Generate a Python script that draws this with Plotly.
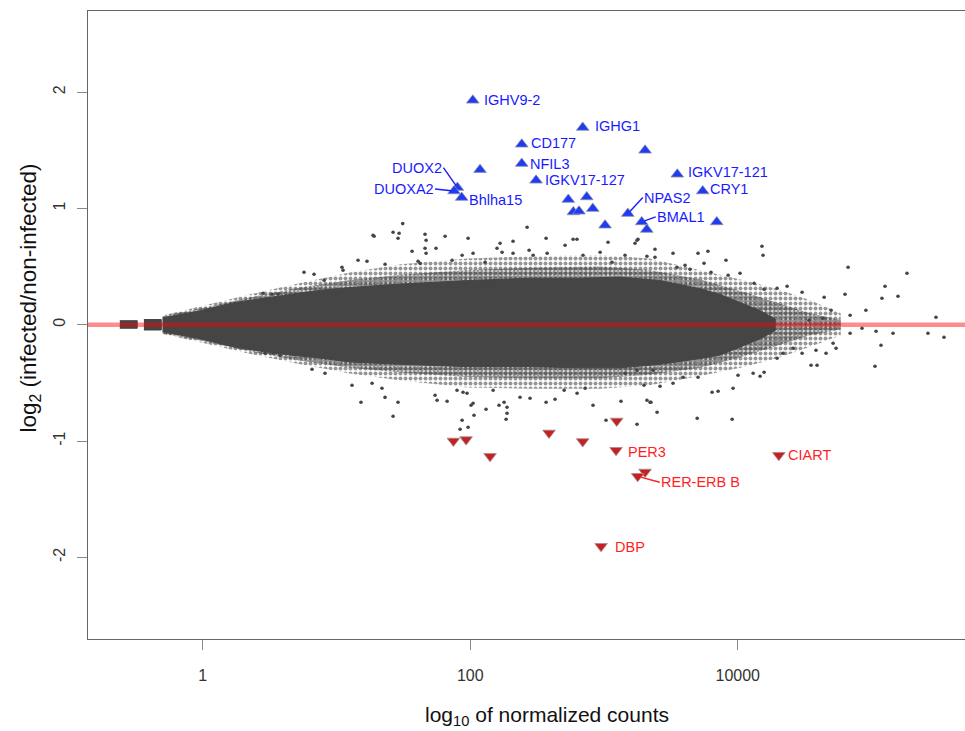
import plotly.graph_objects as go

# ---------------- data (x = log10 normalized counts, y = log2 fold change) ----------------
# dense core of the gene cloud: envelope
core_x = [-0.30, -0.17, -0.02, 0.23, 0.45, 0.65, 0.83, 1.10, 1.48, 1.98, 2.45, 2.82, 3.12, 3.42, 3.72, 3.87, 4.02, 4.17, 4.28]
core_hi = [0.06, 0.09, 0.12, 0.19, 0.23, 0.26, 0.29, 0.32, 0.35, 0.38, 0.40, 0.40, 0.41, 0.38, 0.31, 0.26, 0.19, 0.12, 0.05]
core_lo = [-0.06, -0.09, -0.12, -0.19, -0.23, -0.26, -0.28, -0.32, -0.34, -0.36, -0.36, -0.37, -0.37, -0.34, -0.29, -0.26, -0.19, -0.12, -0.05]
# two small clumps of very low-count genes
clump1_x = [-0.62, -0.49]
clump1_hi = [0.035, 0.035]
clump1_lo = [-0.03, -0.03]
clump2_x = [-0.44, -0.31]
clump2_hi = [0.045, 0.045]
clump2_lo = [-0.045, -0.045]
# denser speckled band just around the core
mid_x = [-0.30, -0.02, 0.35, 0.73, 1.10, 1.48, 1.98, 2.45, 2.97, 3.34, 3.72, 4.02, 4.32, 4.54, 4.77]
mid_hi = [0.075, 0.14, 0.235, 0.32, 0.385, 0.43, 0.47, 0.49, 0.50, 0.47, 0.39, 0.29, 0.18, 0.10, 0.04]
mid_lo = [-0.075, -0.135, -0.23, -0.31, -0.37, -0.41, -0.45, -0.46, -0.46, -0.43, -0.37, -0.28, -0.17, -0.09, -0.04]
# looser outer band
fuzz_x = [-0.30, -0.02, 0.35, 0.73, 1.10, 1.48, 1.98, 2.45, 2.97, 3.34, 3.72, 4.02, 4.32, 4.54, 4.77]
fuzz_hi = [0.08, 0.16, 0.26, 0.36, 0.45, 0.52, 0.57, 0.59, 0.60, 0.57, 0.47, 0.39, 0.30, 0.21, 0.10]
fuzz_lo = [-0.08, -0.15, -0.25, -0.34, -0.42, -0.48, -0.54, -0.55, -0.55, -0.52, -0.44, -0.37, -0.28, -0.19, -0.09]

# individual scattered genes outside the band
out_x = [1.495, 1.423, 1.468, 1.460, 1.281, 1.662, 1.670, 1.812, 1.984, 2.425, 2.567, 2.769, 2.798, 2.223, 2.320,
         1.565, 1.610, 1.625, 1.662, 1.670, 1.744, 1.161, 1.228, 1.041, 1.049, 0.757, 0.832, 0.907, 1.363, 1.864,
         1.939, 2.021, 2.111, 2.200, 2.238, 2.320, 2.440, 2.470, 2.575, 2.709, 2.843, 2.971, 3.030, 3.060, 3.157,
         3.232, 3.247, 3.381, 3.321, 3.381, 3.516, 3.703, 3.777, 4.181, 4.189, 3.912, 3.546, 3.606, 3.643, 3.748,
         3.800, 3.928, 4.017, 4.122, 4.197, 4.294, 4.369, 4.481, 4.646, 4.825, 4.802, 4.958, 5.101, 5.078, 5.265,
         5.198, 5.482, 4.698, 4.840, 4.533, 4.638, 3.254, 1.273, 0.451, 0.518, 0.563,
         1.183, 1.423, 1.460, 1.340, 1.363, 1.116, 1.266, 0.817, 0.914, 1.737, 1.752, 1.827, 1.901, 1.946, 1.976,
         1.939, 1.924, 1.984, 2.006, 2.021, 2.028, 2.118, 2.215, 2.253, 2.275, 2.275, 2.268, 2.372, 2.447, 2.567,
         2.634, 2.702, 2.799, 2.859, 2.918, 3.127, 3.015, 2.171, 3.247, 3.397, 3.697, 3.958, 3.344, 0.578, 0.466,
         0.526, 5.422, 5.542, 5.034, 5.161, 5.071, 5.026, 4.929, 4.840, 4.735, 4.713, 4.660, 4.585, 4.548, 4.593,
         4.481, 4.414, 4.339, 4.294, 4.197, 4.167, 4.115, 4.002, 3.965, 3.853, 3.808, 3.703, 3.591, 3.516, 3.419,
         3.299, 3.321, 3.351, 3.157, 3.247, 3.366]
out_y = [0.870, 0.795, 0.787, 0.744, 0.761, 0.778, 0.727, 0.761, 0.744, 0.838, 0.744, 0.735, 0.735, 0.701, 0.718,
         0.632, 0.546, 0.529, 0.658, 0.615, 0.658, 0.555, 0.546, 0.494, 0.469, 0.451, 0.434, 0.383, 0.520, 0.555,
         0.598, 0.615, 0.537, 0.658, 0.623, 0.615, 0.641, 0.598, 0.615, 0.684, 0.598, 0.623, 0.709, 0.537, 0.598,
         0.701, 0.727, 0.649, 0.589, 0.580, 0.615, 0.615, 0.632, 0.675, 0.598, 0.555, 0.494, 0.512, 0.477, 0.529,
         0.451, 0.426, 0.443, 0.357, 0.305, 0.314, 0.331, 0.279, 0.236, 0.494, 0.262, 0.125, 0.331, 0.228, 0.443,
         0.245, 0.064, 0.125, 0.082, 0.039, 0.056, 0.735, 0.770, 0.271, 0.262, 0.262,
         -0.666, -0.787, -0.666, -0.546, -0.624, -0.520, -0.503, -0.383, -0.417, -0.606, -0.649, -0.658, -0.563, -0.580, -0.589,
         -0.821, -0.899, -0.881, -0.692, -0.675, -0.778, -0.727, -0.692, -0.666, -0.709, -0.761, -0.813, -0.623, -0.632, -0.666,
         -0.641, -0.563, -0.589, -0.546, -0.692, -0.658, -0.821, -0.563, -0.856, -0.752, -0.804, -0.813, -0.666, -0.262, -0.245,
         -0.245, -0.073, -0.107, -0.056, -0.073, -0.176, -0.357, -0.030, -0.073, -0.202, -0.159, -0.245, -0.219, -0.348, -0.348,
         -0.245, -0.202, -0.245, -0.288, -0.408, -0.443, -0.417, -0.434, -0.546, -0.572, -0.580, -0.451, -0.451, -0.503, -0.529,
         -0.520, -0.649, -0.666, -0.417, -0.391, -0.391]

# significantly up-regulated genes
up_x = [2.019, 2.841, 2.385, 3.307, 2.385, 2.073, 3.548, 2.492, 1.904, 1.879, 3.738, 1.936, 2.733, 2.871, 2.771,
        2.813, 2.916, 3.178, 3.008, 3.282, 3.320, 3.843]
up_y = [1.930, 1.696, 1.552, 1.500, 1.386, 1.334, 1.294, 1.242, 1.180, 1.150, 1.150, 1.094, 1.077, 1.099, 0.970,
        0.976, 0.999, 0.956, 0.856, 0.884, 0.819, 0.884]
up_names = ["IGHV9-2", "IGHG1", "CD177", "", "NFIL3", "", "IGKV17-121", "IGKV17-127", "DUOX2", "DUOXA2", "CRY1",
            "Bhlha15", "", "", "", "", "", "NPAS2", "", "BMAL1", "", ""]

# significantly down-regulated genes
down_x = [1.874, 1.969, 2.148, 2.589, 2.841, 3.095, 3.090, 3.307, 3.252, 2.978, 4.307]
down_y = [-0.999, -0.987, -1.131, -0.930, -1.004, -0.827, -1.079, -1.266, -1.303, -1.905, -1.122]
down_names = ["", "", "", "", "", "", "PER3", "", "RER-ERB B", "DBP", "CIART"]

# axis ticks
x_tickvals = [0, 2, 4]
x_ticktext = ["1", "100", "10000"]
y_tickvals = [-2, -1, 0, 1, 2]
y_ticktext = ["-2", "-1", "0", "1", "2"]

# ---------------- styling / layout ----------------
FONT = "Liberation Sans, Arial, Helvetica, sans-serif"
GREY = "#454545"
SPECK = "#2e2e2e"
BLUE_MK = "#1f3cf2"
BLUE_TX = "#1a1aff"
RED_MK = "#c42222"
RED_TX = "#ff1f1f"

# label placement (pixel offsets from marker; leader lines where used)
label_style = {
    "IGHV9-2": dict(dx=10, dy=0),
    "IGHG1": dict(dx=11, dy=-2),
    "CD177": dict(dx=8, dy=-1),
    "NFIL3": dict(dx=7, dy=0),
    "IGKV17-127": dict(dx=8, dy=0),
    "IGKV17-121": dict(dx=10, dy=-2),
    "CRY1": dict(dx=6, dy=-2),
    "Bhlha15": dict(dx=6, dy=2),
    "PER3": dict(dx=11, dy=2),
    "DBP": dict(dx=13, dy=1),
    "CIART": dict(dx=8, dy=0),
    "DUOX2": dict(arrow=True, ax=-14, ay=-20, anchor="right"),
    "DUOXA2": dict(arrow=True, ax=-19, ay=-2, anchor="right"),
    "NPAS2": dict(arrow=True, ax=15, ay=-16, anchor="left"),
    "BMAL1": dict(arrow=True, ax=14, ay=-5, anchor="left"),
    "RER-ERB B": dict(arrow=True, ax=22, ay=6, anchor="left"),
}


def polygon(xs, hi, lo):
    return list(xs) + list(xs[::-1]) + [None], list(hi) + list(lo[::-1]) + [None]


fig = go.Figure()

# outer speckled band
fx, fy = polygon(fuzz_x, fuzz_hi, fuzz_lo)
fig.add_trace(go.Scatter(x=fx, y=fy, mode="lines", fill="toself", line=dict(width=0),
                         fillcolor="rgba(0,0,0,0)",
                         fillpattern=dict(shape=".", size=5, solidity=0.5, fgcolor=SPECK, bgcolor="rgba(255,255,255,0)"),
                         hoverinfo="skip", showlegend=False))
# inner speckled band
mx, my = polygon(mid_x, mid_hi, mid_lo)
fig.add_trace(go.Scatter(x=mx, y=my, mode="lines", fill="toself", line=dict(width=0),
                         fillcolor="rgba(0,0,0,0)",
                         fillpattern=dict(shape=".", size=4, solidity=0.8, fgcolor=SPECK, bgcolor="rgba(255,255,255,0)"),
                         hoverinfo="skip", showlegend=False))
# dense core
cx, cy = [], []
for xs, hi, lo in [(clump1_x, clump1_hi, clump1_lo), (clump2_x, clump2_hi, clump2_lo), (core_x, core_hi, core_lo)]:
    px_, py_ = polygon(xs, hi, lo)
    cx += px_
    cy += py_
fig.add_trace(go.Scatter(x=cx, y=cy, mode="lines", fill="toself", fillcolor=GREY,
                         line=dict(width=1, color=GREY), hoverinfo="skip", showlegend=False))
# scattered genes
fig.add_trace(go.Scatter(x=out_x, y=out_y, mode="markers",
                         marker=dict(size=3.6, color=GREY), hoverinfo="skip", showlegend=False))

# significant genes
fig.add_trace(go.Scatter(x=up_x, y=up_y, mode="markers",
                         marker=dict(symbol="triangle-up", size=11, color=BLUE_MK,
                                     line=dict(width=1, color="rgba(140,140,170,0.8)")),
                         showlegend=False))
fig.add_trace(go.Scatter(x=down_x, y=down_y, mode="markers",
                         marker=dict(symbol="triangle-down", size=11, color=RED_MK,
                                     line=dict(width=1, color="rgba(170,140,140,0.8)")),
                         showlegend=False))

annotations = []
for xs, ys, names, col in [(up_x, up_y, up_names, BLUE_TX), (down_x, down_y, down_names, RED_TX)]:
    for x, y, n in zip(xs, ys, names):
        if not n:
            continue
        st = label_style[n]
        if st.get("arrow"):
            annotations.append(dict(x=x, y=y, xref="x", yref="y", text=n, showarrow=True,
                                    arrowhead=0, arrowwidth=1.4, arrowcolor=col, ax=st["ax"], ay=st["ay"],
                                    standoff=3, xanchor=st["anchor"], yanchor="middle",
                                    font=dict(family=FONT, size=14.5, color=col), borderpad=0))
        else:
            annotations.append(dict(x=x, y=y, xref="x", yref="y", text=n, showarrow=False,
                                    xanchor="left", yanchor="middle", xshift=st["dx"], yshift=-st["dy"],
                                    font=dict(family=FONT, size=14.5, color=col), borderpad=0))

# axis titles
annotations.append(dict(x=0.523, y=-0.123, xref="paper", yref="paper", showarrow=False,
                        text="log<sub>10</sub> of normalized counts", xanchor="center", yanchor="middle",
                        font=dict(family=FONT, size=21, color="#111")))
annotations.append(dict(x=-0.066, y=0.5425, xref="paper", yref="paper", showarrow=False, textangle=-90,
                        text="log<sub>2</sub> (infected/non-infected)", xanchor="center", yanchor="middle",
                        font=dict(family=FONT, size=22.5, color="#111")))

fig.update_layout(
    width=965, height=731,
    margin=dict(l=88, r=0, t=11, b=92),
    paper_bgcolor="white", plot_bgcolor="white",
    font=dict(family=FONT, color="#333"),
    annotations=annotations,
    shapes=[dict(type="line", xref="paper", yref="y", x0=0, x1=1, y0=0, y1=0,
                 line=dict(color="rgba(255,0,0,0.45)", width=4.5), layer="above")],
    showlegend=False,
)
fig.update_xaxes(range=[-0.858, 5.699], tickvals=x_tickvals, ticktext=x_ticktext,
                 showgrid=False, zeroline=False, showline=True, linecolor="#666", linewidth=1.3,
                 mirror=True, ticks="outside", ticklen=10, tickcolor="#888", tickwidth=1.2,
                 ticklabelstandoff=12,
                 tickfont=dict(family=FONT, size=16, color="#333"))
fig.update_yaxes(range=[-2.702, 2.698], tickvals=y_tickvals, ticktext=y_ticktext, tickangle=-90,
                 showgrid=False, zeroline=False, showline=True, linecolor="#666", linewidth=1.3,
                 ticks="outside", ticklen=10, tickcolor="#888", tickwidth=1.2,
                 ticklabelstandoff=5,
                 tickfont=dict(family=FONT, size=16, color="#333"))

fig.write_html("out.html")
